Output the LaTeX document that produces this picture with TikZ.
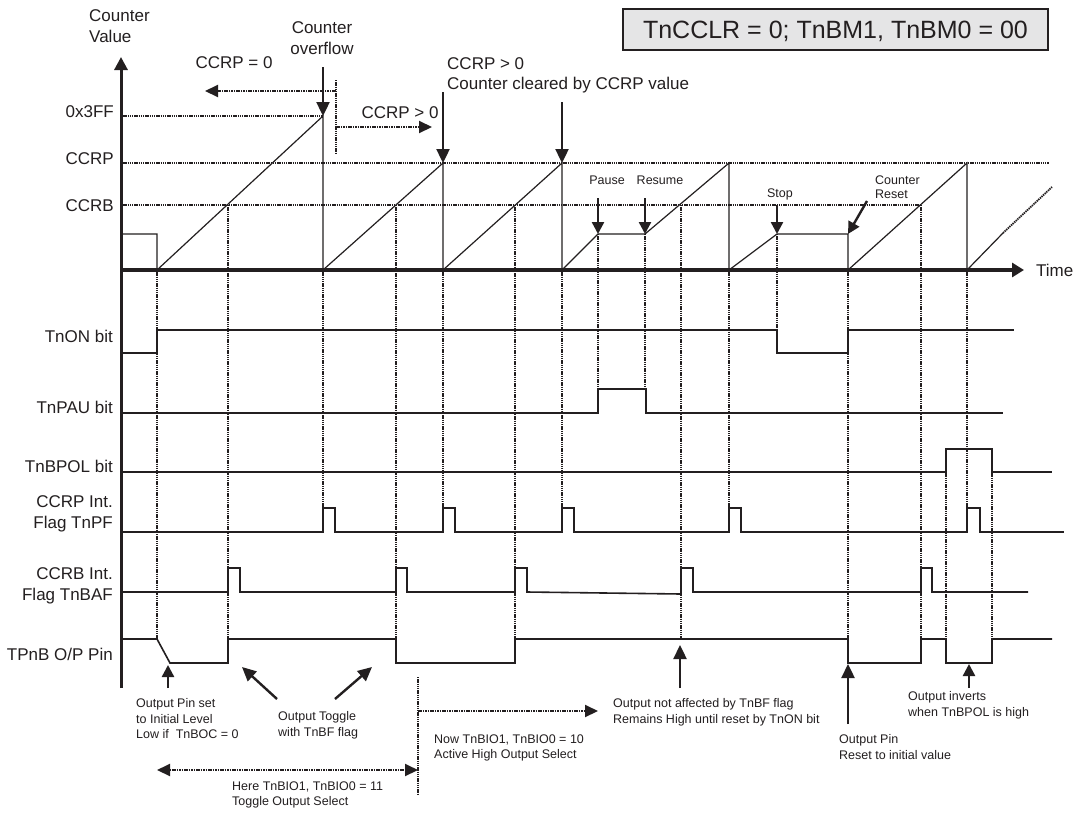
\documentclass[tikz,border=0pt]{standalone}
\usepackage{fontspec}
\setmainfont{Liberation Sans}
\usetikzlibrary{arrows.meta}
\definecolor{fg}{RGB}{35,31,32}
\definecolor{boxbg}{RGB}{229,229,230}
\tikzset{
  every picture/.style={fg, line cap=butt, line join=miter},
  % Linientypen
  achse/.style={line width=3pt, -{Triangle[length=13pt,width=13pt]}},
  zeit/.style={line width=4.5pt, -{Triangle[length=12pt,width=14pt]}},
  sig/.style={line width=1.6pt},
  ramp/.style={line width=1.2pt},
  raster/.style={line width=2.2pt, dash pattern=on 1.4pt off 0.8pt},
  zeiger/.style={line width=2.4pt, -{Triangle[length=14pt,width=13pt]}},
  kzeiger/.style={line width=2.4pt, -{Triangle[length=12pt,width=12pt]}},
  bereich/.style={line width=2pt, dash pattern=on 1.6pt off 0.8pt,
    >={Triangle[length=13pt,width=12pt]}},
  % Schrift
  lbl/.style={font=\fontsize{17}{20.5}\selectfont, inner sep=0pt},
  zeile/.style={lbl, anchor=base east},
  klein/.style={font=\fontsize{12.5}{15.5}\selectfont, inner sep=0pt},
  notiz/.style={klein, anchor=north west, align=left},
}

\begin{document}
\begin{tikzpicture}[x=1pt, y=-1pt]
  \path[use as bounding box, fill=white] (0,0) rectangle (1076,814);
  % Betriebsart
  \node[draw, fill=boxbg, line width=1.5pt, minimum width=425pt, minimum height=41pt,
    inner sep=0pt, font=\fontsize{25}{29}\selectfont, text height=17.9pt, text depth=0pt]
    (modus) at (835.5,29.5) {TnCCLR = 0; TnBM1, TnBM0 = 00};
  % Vergleichswerte
  \draw[raster] (121,116) -- (323,116);
  \draw[raster] (121,163) -- (1049,163);
  \draw[raster] (121,205) -- (921,205);
  \node[zeile] (lvlf) at (114,117) {0x3FF};
  \node[zeile] (lvlp) at (114,164.5) {CCRP};
  \node[zeile] (lvlb) at (114,211.5) {CCRB};
  % Hilfslinien
  \draw[raster]
    (157,270) -- (157,639)  (228,205) -- (228,639)
    (323,270) -- (323,508)  (396,205) -- (396,639)
    (443,270) -- (443,508)  (515,205) -- (515,639)
    (562,270) -- (562,508)  (598,234) -- (598,389)
    (645,234) -- (645,389)  (681,205) -- (681,639)
    (729,270) -- (729,508)  (777,234) -- (777,330)
    (848,270) -- (848,639)  (921,205) -- (921,639)
    (967,270) -- (967,508)  (946,449) -- (946,639)
    (992,449) -- (992,639);
  % Zaehlerstand
  \draw[ramp] (121,234) -- (157,234) -- (157,270) -- (323,116) -- (323,270)
    -- (443,163) -- (443,270) -- (562,163) -- (562,270) -- (598,234) -- (645,234)
    -- (729,163) -- (729,270) -- (777,234) -- (848,234) -- (848,270) -- (967,163)
    -- (967,270) -- (1003,233);
  \draw[raster, line width=1.8pt] (1003,233) -- (1052,187);
  % Achsen
  \draw[achse] (121,688) -- (121,57);
  \draw[zeit] (121,270) -- (1024,270);
  \node[lbl, anchor=north west, align=left] (yachse) at (89,9.6) {Counter\\Value};
  \node[lbl, anchor=base west] (tachse) at (1036,276) {Time};
  % Signale
  \draw[sig] (121,353) -- (157,353) -- (157,330) -- (777,330) -- (777,353)
    -- (848,353) -- (848,330) -- (1014,330);
  \draw[sig] (121,413) -- (598,413) -- (598,389) -- (646,389) -- (646,413) -- (1003,413);
  \draw[sig] (121,472) -- (946,472) -- (946,449) -- (992,449) -- (992,472) -- (1052,472);
  \draw[sig] (121,532) -- (323,532) -- ++(0,-24) -- ++(12,0) -- ++(0,24)
    -- (443,532) -- ++(0,-24) -- ++(12,0) -- ++(0,24)
    -- (562,532) -- ++(0,-24) -- ++(12,0) -- ++(0,24)
    -- (729,532) -- ++(0,-24) -- ++(12,0) -- ++(0,24)
    -- (967,532) -- ++(0,-24) -- ++(13,0) -- ++(0,24) -- (1064,532);
  \draw[sig] (121,592) -- (228,592) -- ++(0,-24) -- ++(12,0) -- ++(0,24)
    -- (396,592) -- ++(0,-24) -- ++(11,0) -- ++(0,24)
    -- (515,592) -- ++(0,-24) -- ++(12,0) -- ++(0,24)
    -- (681,594) -- (681,568) -- ++(12,0) -- (693,592)
    -- (921,592) -- ++(0,-24) -- ++(11,0) -- ++(0,24) -- (1028,592);
  \draw[sig] (121,639) -- (157,639) -- (170,663) -- (228,663) -- (228,639)
    -- (396,639) -- (396,663) -- (515,663) -- (515,639) -- (848,639) -- (848,663)
    -- (921,663) -- (921,639) -- (946,639) -- (946,663) -- (992,663) -- (992,639)
    -- (1052,639);
  \node[zeile] (ton) at (113,342) {TnON bit};
  \node[zeile] (tpau) at (113,413) {TnPAU bit};
  \node[zeile] (tbpol) at (113,472) {TnBPOL bit};
  \node[lbl, anchor=north east, align=right] (tpf) at (113,495.6) {CCRP Int.\\Flag TnPF};
  \node[lbl, anchor=north east, align=right] (tbaf) at (113,567.6) {CCRB Int.\\Flag TnBAF};
  \node[zeile] (tpin) at (113,660) {TPnB O/P Pin};
  % Ereignisse oben
  \coordinate (ovf) at (323,116);
  \coordinate (clra) at (443,163);
  \coordinate (clrb) at (562,163);
  \coordinate (pau) at (598,234);
  \coordinate (res) at (645,234);
  \coordinate (stp) at (777,234);
  \coordinate (rst) at (848,234);
  \draw[zeiger] (ovf) ++(0,-49) -- (ovf);
  \draw[zeiger] (clra) ++(0,-71) -- (clra);
  \draw[zeiger] (clrb) ++(0,-61) -- (clrb);
  \draw[kzeiger] (pau) ++(0,-36) -- (pau);
  \draw[kzeiger] (res) ++(0,-36) -- (res);
  \draw[kzeiger] (stp) ++(0,-29) -- (stp);
  \draw[kzeiger] (rst) ++(19,-33) -- (rst);
  \node[lbl, anchor=north, align=center, font=\fontsize{17}{21}\selectfont] (ovflbl) at (322,21) {Counter\\overflow};
  \node[lbl, anchor=base] (nullp) at (234,68) {CCRP = 0};
  \node[lbl, anchor=base] (grossp) at (400,118) {CCRP > 0};
  \node[lbl, anchor=north west, align=left] (clrlbl) at (447,57) {CCRP > 0\\Counter cleared by CCRP value};
  \draw[raster] (336,80) -- (336,153);
  \draw[bereich, ->] (336,91) -- (205,91);
  \draw[bereich, ->] (336,127) -- (432,127);
  \node[klein, anchor=base] (paulbl) at (607,184.5) {Pause};
  \node[klein, anchor=base] (reslbl) at (660,184.5) {Resume};
  \node[klein, anchor=base] (stplbl) at (780,197.5) {Stop};
  \node[notiz, font=\fontsize{12.5}{14}\selectfont] (rstlbl) at (875,175.5) {Counter\\Reset};
  % Hinweise unten
  \draw[kzeiger] (168,688) -- (168,665);
  \draw[zeiger] (277,699) -- (242,667);
  \draw[zeiger] (335,699) -- (372,667);
  \draw[zeiger] (680,688) -- (680,645);
  \draw[zeiger] (848,724) -- (848,664);
  \draw[kzeiger] (969,688) -- (969,664);
  \draw[raster] (418,677) -- (418,795);
  \draw[bereich, ->] (418,711) -- (598,711);
  \draw[bereich, <->] (157,770) -- (418,770);
  \node[notiz] (initlbl) at (136,698.5) {Output Pin set\\to Initial Level\\Low if\ \ TnBOC = 0};
  \node[notiz] (toglbl) at (278,711.5) {Output Toggle\\with TnBF flag};
  \node[notiz] (herelbl) at (232,781.5) {Here TnBIO1, TnBIO0 = 11\\Toggle Output Select};
  \node[notiz] (nowlbl) at (434,734.5) {Now TnBIO1, TnBIO0 = 10\\Active High Output Select};
  \node[notiz] (notlbl) at (613,698.5) {Output not affected by TnBF flag\\Remains High until reset by TnON bit};
  \node[notiz] (pinlbl) at (839,734.5) {Output Pin\\Reset to initial value};
  \node[notiz] (invlbl) at (908,691.5) {Output inverts\\when TnBPOL is high};
\end{tikzpicture}
\end{document}
